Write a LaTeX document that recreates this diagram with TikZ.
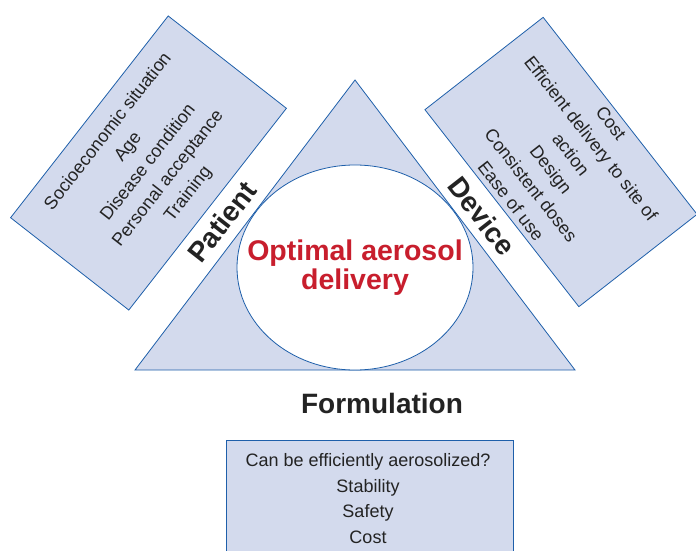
\documentclass[tikz,border=0pt]{standalone}
\usepackage{fontspec}
\setmainfont{Liberation Sans}
\definecolor{boxfill}{RGB}{211,218,237}
\definecolor{boxline}{RGB}{30,95,170}
\definecolor{aerored}{RGB}{200,30,45}
\definecolor{textgray}{RGB}{35,35,35}
\tikzset{
  factorbox/.style={draw=boxline, fill=boxfill, line width=0.8pt, minimum height=150pt,
    align=center, inner sep=0pt, text=textgray, font=\fontsize{18}{25.4}\selectfont},
  sidelabel/.style={text=textgray, inner sep=0pt, font=\bfseries\fontsize{28}{29}\selectfont}
}
\begin{document}
\begin{tikzpicture}[x=1pt,y=-1pt]
    \useasboundingbox (0,0) rectangle (696,551);
    \draw[boxline, fill=boxfill, line width=0.8pt] (355,80) -- (575,370) -- (135,370) -- cycle; % triangle
    \draw[boxline, fill=white, line width=0.8pt] (355,267.5) ellipse [x radius=118, y radius=102.5]; % centre
    \node[align=center, inner sep=0pt, text=aerored, font=\bfseries\fontsize{28.5}{29}\selectfont]
      (optimal) at (355,267.5) {Optimal aerosol\\delivery};
    \node[factorbox, minimum width=256pt, rotate=52] (patientbox) at (148.5,163)
      {Socioeconomic situation\\Age\\Disease condition\\Personal acceptance\\Training}; % patient factors
    \node[factorbox, minimum width=250pt, rotate=-52] (devicebox) at (561,162)
      {Cost\\Efficient delivery to site of\\action\\Design\\Consistent doses\\Ease of use}; % device factors
    \node[factorbox, minimum width=287pt, minimum height=140pt, anchor=north] (formbox) at (369.5,440) {}; % formulation box
    \node[align=center, inner sep=0pt, text=textgray, font=\fontsize{18}{25.4}\selectfont] (formtext) at (368,498.5)
      {Can be efficiently aerosolized?\\Stability\\Safety\\Cost}; % formulation factors
    \node[sidelabel, rotate=52] (patient) at (222,222) {Patient};
    \node[sidelabel, rotate=-52] (device) at (482,216) {Device};
    \node[sidelabel] (formulation) at (382,403) {Formulation};
  \end{tikzpicture}
\end{document}
